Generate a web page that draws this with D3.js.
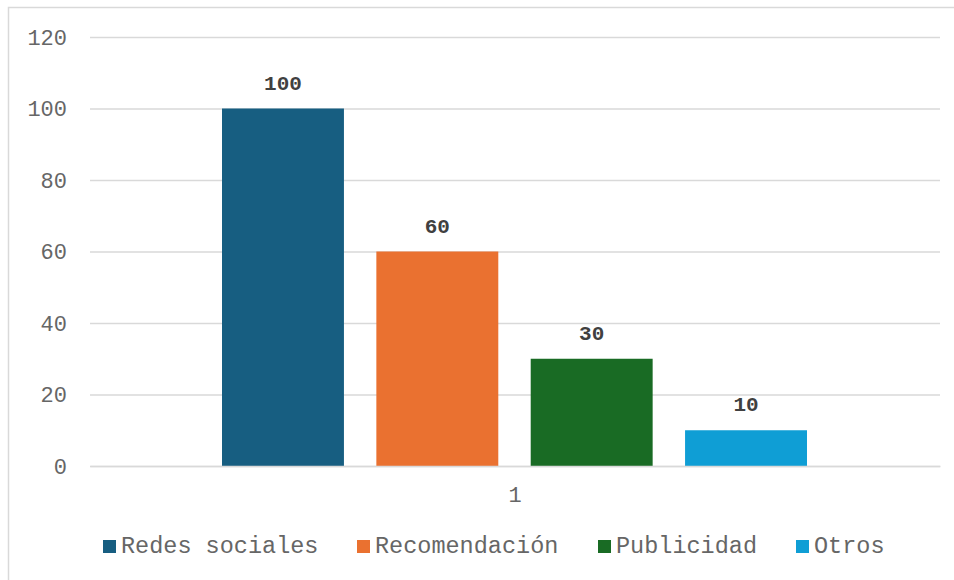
<!DOCTYPE html>
<html><head><meta charset="utf-8">
<script src="https://cdn.jsdelivr.net/npm/d3@7"></script>
<style>body{margin:0;background:#fff}svg{display:block}</style>
</head><body><svg id="c" width="954" height="580"></svg>
<script>
const categories = ["1"];
const seriesNames = ["Redes sociales", "Recomendación", "Publicidad", "Otros"];
const seriesValues = [100, 60, 30, 10];
const seriesColors = ["#175E81", "#EA7130", "#196B24", "#0F9ED5"];
const yTicks = [0, 20, 40, 60, 80, 100, 120];

const svg = d3.select("#c");
const font = "'Liberation Mono','Courier New',monospace";
svg.append("rect").attr("x", 8.5).attr("y", 7.5).attr("width", 960).attr("height", 600)
  .attr("fill", "#fff").attr("stroke", "#d9d9d9").attr("stroke-width", 1.5);

const x0 = d3.scaleBand().domain(categories).range([90, 940]);
const x1 = d3.scaleBand().domain(seriesNames).range([x0("1") + 132, x0("1") + x0.bandwidth() - 133]).paddingInner(0.21).paddingOuter(0);
const y = d3.scaleLinear().domain([0, 120]).range([466, 37]);

const g = svg.append("g");
const yAxis = d3.axisLeft(y).tickValues(yTicks).tickSize(-850).tickPadding(23);
const ya = g.append("g").attr("transform", "translate(90,0)").call(yAxis);
ya.select(".domain").remove();
ya.selectAll(".tick line").attr("stroke", "#d9d9d9").attr("stroke-width", 1.5);
ya.selectAll(".tick text").attr("fill", "#666").style("font-family", font).style("font-size", "22px");

const data = seriesNames.map((n, i) => ({name: n, value: seriesValues[i], color: seriesColors[i]}));
g.selectAll("rect.bar").data(data).enter().append("rect").attr("class", "bar")
  .attr("x", d => x1(d.name)).attr("width", x1.bandwidth())
  .attr("y", d => y(d.value)).attr("height", d => y(0) - y(d.value))
  .attr("fill", d => d.color);
g.selectAll("text.val").data(data).enter().append("text").attr("class", "val")
  .attr("x", d => x1(d.name) + x1.bandwidth() / 2).attr("y", d => y(d.value) - 19)
  .attr("text-anchor", "middle").attr("fill", "#404040")
  .style("font-family", font).style("font-weight", "bold").style("font-size", "21px")
  .text(d => d.value);

const xAxis = d3.axisBottom(x0).tickSize(0).tickPadding(20);
const xa = g.append("g").attr("transform", "translate(0,466)").call(xAxis);
xa.select(".domain").attr("stroke", "#d9d9d9").attr("stroke-width", 1.5);
xa.selectAll(".tick text").attr("fill", "#666").style("font-family", font).style("font-size", "22px");

const legX = [103, 357, 598, 796];
const leg = svg.append("g");
data.forEach((d, i) => {
  leg.append("rect").attr("x", legX[i]).attr("y", 540).attr("width", 13).attr("height", 13).attr("fill", d.color);
  leg.append("text").attr("x", legX[i] + 18).attr("y", 553).attr("fill", "#666")
    .style("font-family", font).style("font-size", "23.5px").text(d.name);
});
</script></body></html>
